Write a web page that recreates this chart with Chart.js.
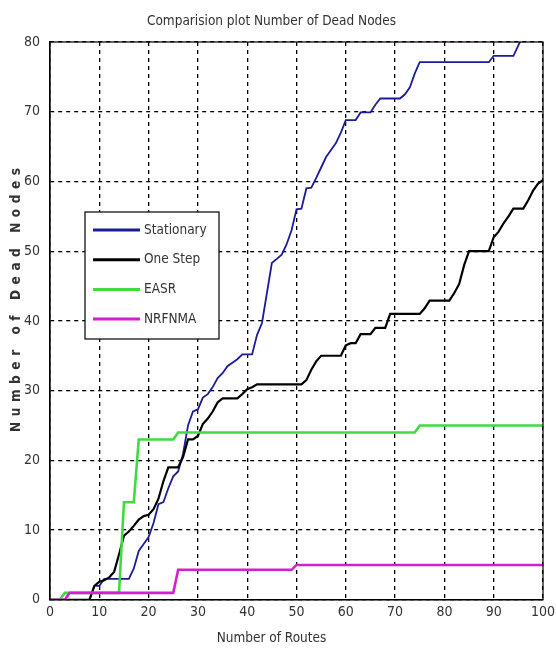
<!DOCTYPE html>
<html>
<head>
<meta charset="utf-8">
<script src="https://cdn.jsdelivr.net/npm/chart.js@4.4.1/dist/chart.umd.min.js"></script>
<style>
  html, body { margin: 0; padding: 0; background: #ffffff; }
  #wrap { width: 556px; height: 653px; }
</style>
</head>
<body>
<div id="wrap"><canvas id="c" width="556" height="653"></canvas></div>
<script>
// Number of routes (x axis)
const routes = [
  0, 1, 2, 3, 4, 5, 6, 7, 8, 9,
  10, 11, 12, 13, 14, 15, 16, 17, 18, 19,
  20, 21, 22, 23, 24, 25, 26, 27, 28, 29,
  30, 31, 32, 33, 34, 35, 36, 37, 38, 39,
  40, 41, 42, 43, 44, 45, 46, 47, 48, 49,
  50, 51, 52, 53, 54, 55, 56, 57, 58, 59,
  60, 61, 62, 63, 64, 65, 66, 67, 68, 69,
  70, 71, 72, 73, 74, 75, 76, 77, 78, 79,
  80, 81, 82, 83, 84, 85, 86, 87, 88, 89,
  90, 91, 92, 93, 94, 95, 96, 97, 98, 99,
  100
];

// Dead nodes per protocol
const stationary = [
  0, 0, 0, 0, 0, 0, 0, 0, 0, 2,
  2, 3, 3, 3, 3, 3, 3, 4.5, 7, 8,
  9, 11, 13.7, 14, 16, 17.7, 18.4, 21, 25, 27,
  27.3, 29, 29.5, 30.5, 31.8, 32.5, 33.5, 34, 34.5, 35.2,
  35.2, 35.2, 38, 39.7, 44, 48.3, 48.9, 49.5, 51, 53,
  56, 56.1, 59, 59.1, 60.5, 62, 63.5, 64.5, 65.5, 67,
  68.8, 68.8, 68.8, 69.9, 69.9, 69.9, 71, 71.9, 71.9, 71.9,
  71.9, 71.9, 72.5, 73.5, 75.5, 77.1, 77.1, 77.1, 77.1, 77.1,
  77.1, 77.1, 77.1, 77.1, 77.1, 77.1, 77.1, 77.1, 77.1, 77.1,
  78, 78, 78, 78, 78, 79.5, 81, 82, 82, 82,
  82
];
const oneStep = [
  0, 0, 0, 0, 0, 0, 0, 0, 0, 2,
  2.6, 2.8, 3.2, 4, 6.5, 9.2, 9.8, 10.6, 11.5, 12,
  12.2, 13, 14.5, 17, 19, 19, 19, 20.5, 23, 23,
  23.5, 25.2, 26, 27, 28.3, 28.9, 28.9, 28.9, 28.9, 29.5,
  30.2, 30.5, 30.9, 30.9, 30.9, 30.9, 30.9, 30.9, 30.9, 30.9,
  30.9, 30.9, 31.5, 33, 34.2, 35, 35, 35, 35, 35,
  36.5, 36.8, 36.8, 38.1, 38.1, 38.1, 39, 39, 39, 41,
  41, 41, 41, 41, 41, 41, 41.8, 42.9, 42.9, 42.9,
  42.9, 42.9, 44, 45.3, 48, 50, 50, 50, 50, 50,
  52, 52.8, 54, 55, 56.1, 56.1, 56.1, 57.3, 58.7, 59.7,
  60.2
];
const easr = [
  0, 0, 0, 1, 1, 1, 1, 1, 1, 1,
  1, 1, 1, 1, 1, 14, 14, 14, 23, 23,
  23, 23, 23, 23, 23, 23, 24, 24, 24, 24,
  24, 24, 24, 24, 24, 24, 24, 24, 24, 24,
  24, 24, 24, 24, 24, 24, 24, 24, 24, 24,
  24, 24, 24, 24, 24, 24, 24, 24, 24, 24,
  24, 24, 24, 24, 24, 24, 24, 24, 24, 24,
  24, 24, 24, 24, 24, 25, 25, 25, 25, 25,
  25, 25, 25, 25, 25, 25, 25, 25, 25, 25,
  25, 25, 25, 25, 25, 25, 25, 25, 25, 25,
  25
];
const nrfnma = [
  0, 0, 0, 0, 1, 1, 1, 1, 1, 1,
  1, 1, 1, 1, 1, 1, 1, 1, 1, 1,
  1, 1, 1, 1, 1, 1, 4.3, 4.3, 4.3, 4.3,
  4.3, 4.3, 4.3, 4.3, 4.3, 4.3, 4.3, 4.3, 4.3, 4.3,
  4.3, 4.3, 4.3, 4.3, 4.3, 4.3, 4.3, 4.3, 4.3, 4.3,
  5, 5, 5, 5, 5, 5, 5, 5, 5, 5,
  5, 5, 5, 5, 5, 5, 5, 5, 5, 5,
  5, 5, 5, 5, 5, 5, 5, 5, 5, 5,
  5, 5, 5, 5, 5, 5, 5, 5, 5, 5,
  5, 5, 5, 5, 5, 5, 5, 5, 5, 5,
  5
];

const seriesNames = ['Stationary', 'One Step', 'EASR', 'NRFNMA'];
const xTicks = [0, 10, 20, 30, 40, 50, 60, 70, 80, 90, 100];
const yTicks = [0, 10, 20, 30, 40, 50, 60, 70, 80];

const FONT = "'DejaVu Sans Condensed', 'Liberation Sans Narrow', 'Liberation Sans', sans-serif";
const TEXT = '#333333';
const GRID_DASH = [4, 4];

function pairs(values) {
  return routes.map((r, i) => ({ x: r, y: values[i] }));
}

// Plot frame drawn on top of the lines (all four sides)
const framePlugin = {
  id: 'frame',
  afterDatasetsDraw(chart) {
    const a = chart.chartArea, ctx = chart.ctx;
    ctx.save();
    ctx.strokeStyle = '#000';
    ctx.lineWidth = 1.2;
    ctx.strokeRect(a.left, a.top, a.right - a.left, a.bottom - a.top);
    ctx.restore();
  }
};

// Letter-spaced, bold vertical axis title
const yTitlePlugin = {
  id: 'yTitle',
  afterDraw(chart, args, opts) {
    const ctx = chart.ctx;
    const text = opts.text;
    ctx.save();
    ctx.font = 'bold 13.5px ' + FONT;
    ctx.fillStyle = TEXT;
    ctx.textBaseline = 'middle';
    ctx.textAlign = 'center';
    const natural = ctx.measureText(text).width;
    const spacing = Math.max(0, (opts.span - natural) / (text.length - 1));
    ctx.translate(opts.x, opts.y);
    ctx.rotate(-Math.PI / 2);
    if ('letterSpacing' in ctx) {
      ctx.letterSpacing = spacing.toFixed(2) + 'px';
      ctx.fillText(text, spacing / 2, 0);
    } else {
      ctx.textAlign = 'left';
      let x = -opts.span / 2;
      for (const ch of text) {
        ctx.fillText(ch, x, 0);
        x += ctx.measureText(ch).width + spacing;
      }
    }
    ctx.restore();
  }
};

// Boxed legend inside the plot area
const boxLegendPlugin = {
  id: 'boxLegend',
  afterDraw(chart, args, opts) {
    const a = chart.chartArea, ctx = chart.ctx;
    const left = a.left + opts.dx, top = a.top + opts.dy;
    ctx.save();
    ctx.fillStyle = '#fff';
    ctx.fillRect(left, top, opts.w, opts.h);
    ctx.strokeStyle = '#000';
    ctx.lineWidth = 1.2;
    ctx.strokeRect(left, top, opts.w, opts.h);
    ctx.font = '13.5px ' + FONT;
    ctx.textBaseline = 'middle';
    ctx.textAlign = 'left';
    chart.data.datasets.forEach((ds, i) => {
      const y = top + opts.first + i * opts.step;
      ctx.strokeStyle = ds.borderColor;
      ctx.lineWidth = 3;
      ctx.beginPath();
      ctx.moveTo(left + 8, y);
      ctx.lineTo(left + 55, y);
      ctx.stroke();
      ctx.fillStyle = TEXT;
      ctx.fillText(ds.label, left + 59, y);
    });
    ctx.restore();
  }
};

const gridCommon = {
  color: '#000',
  lineWidth: 1.3,
  drawTicks: false
};

new Chart(document.getElementById('c'), {
  type: 'line',
  data: {
    datasets: [
      { label: seriesNames[0], data: pairs(stationary), borderColor: '#1c1c96', borderWidth: 1.8, order: 3 },
      { label: seriesNames[1], data: pairs(oneStep), borderColor: '#000000', borderWidth: 2.2, order: 2 },
      { label: seriesNames[2], data: pairs(easr), borderColor: '#3fdc3f', borderWidth: 2.6, order: 1 },
      { label: seriesNames[3], data: pairs(nrfnma), borderColor: '#d21fd2', borderWidth: 2.6, order: 0 }
    ]
  },
  options: {
    responsive: false,
    animation: false,
    devicePixelRatio: 1,
    layout: { padding: { left: 0, right: 13, top: 0, bottom: 0 } },
    elements: {
      point: { radius: 0, hoverRadius: 0 },
      line: { tension: 0, fill: false, borderJoinStyle: 'miter' }
    },
    scales: {
      x: {
        type: 'linear',
        min: 0, max: 100,
        afterBuildTicks(scale) { scale.ticks = xTicks.map(v => ({ value: v })); },
        afterFit(scale) {
          scale.height = 29;
          scale.paddingLeft = 0;
          scale.paddingRight = 0;
        },
        grid: gridCommon,
        border: { display: true, color: '#000', width: 1.2, dash: GRID_DASH },
        ticks: { color: TEXT, font: { family: FONT, size: 14 }, padding: 4, maxRotation: 0 }
      },
      y: {
        type: 'linear',
        min: 0, max: 80,
        afterBuildTicks(scale) { scale.ticks = yTicks.map(v => ({ value: v })); },
        afterFit(scale) {
          scale.width = 50;
          scale.paddingTop = 0;
          scale.paddingBottom = 0;
        },
        grid: gridCommon,
        border: { display: true, color: '#000', width: 1.2, dash: GRID_DASH },
        ticks: { color: TEXT, font: { family: FONT, size: 14 }, padding: 10 }
      }
    },
    plugins: {
      legend: { display: false },
      tooltip: { enabled: false },
      title: {
        display: true,
        text: 'Comparision plot Number of Dead Nodes',
        color: TEXT,
        font: { family: FONT, size: 13.5, weight: 'normal', lineHeight: 1.2 },
        padding: { top: 12.9, bottom: 12.9 }
      },
      subtitle: {
        display: true,
        position: 'bottom',
        text: 'Number of Routes',
        color: TEXT,
        font: { family: FONT, size: 13.5, weight: 'normal', lineHeight: 1.2 },
        padding: { top: 2, bottom: 6 }
      },
      yTitle: { text: 'Number of Dead Nodes', x: 16, y: 300, span: 264 },
      boxLegend: { dx: 35, dy: 170, w: 134, h: 127, first: 18, step: 29.7 }
    }
  },
  plugins: [framePlugin, yTitlePlugin, boxLegendPlugin]
});
</script>
</body>
</html>
